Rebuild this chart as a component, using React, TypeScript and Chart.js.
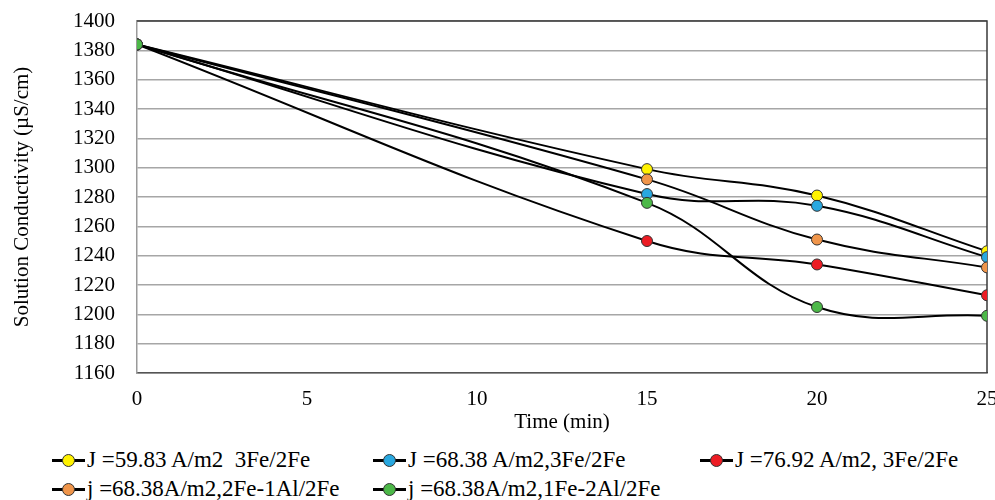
import React, { useEffect, useRef } from "react";
import { Chart, registerables } from "chart.js";

Chart.register(...registerables);

const timeMin = [0, 15, 20, 25];
const xTicks = [0, 5, 10, 15, 20, 25];
const yTicks = [1160, 1180, 1200, 1220, 1240, 1260, 1280, 1300, 1320, 1340, 1360, 1380, 1400];

const seriesLabels = [
  "J =59.83 A/m2  3Fe/2Fe",
  "J =68.38 A/m2,3Fe/2Fe",
  "J =76.92 A/m2, 3Fe/2Fe",
  "j =68.38A/m2,2Fe-1Al/2Fe",
  "j =68.38A/m2,1Fe-2Al/2Fe",
];
const seriesColors = ["#fff200", "#29a8e0", "#ed1c24", "#f0954a", "#4cb848"];

const condJ5983Fe3 = [1384, 1299, 1281, 1243];
const condJ6838Fe3 = [1384, 1282, 1274, 1239];
const condJ7692Fe3 = [1384, 1250, 1234, 1213];
const condJ6838Fe2Al1 = [1384, 1292, 1251, 1232];
const condJ6838Fe1Al2 = [1384, 1276, 1205, 1199];

const seriesValues = [condJ5983Fe3, condJ6838Fe3, condJ7692Fe3, condJ6838Fe2Al1, condJ6838Fe1Al2];
const drawOrder = [4, 3, 2, 1, 0];

const FONT = "'Liberation Serif', 'Times New Roman', serif";
Chart.defaults.font.family = FONT;

const borderPlugin = {
  id: "plotBorder",
  beforeDatasetsDraw(chart: any) {
    const { ctx, chartArea } = chart;
    ctx.save();
    ctx.strokeStyle = "#3a3a3a";
    ctx.lineWidth = 1.5;
    ctx.beginPath();
    ctx.moveTo(chartArea.left, chartArea.top);
    ctx.lineTo(chartArea.right, chartArea.top);
    ctx.lineTo(chartArea.right, chartArea.bottom);
    ctx.stroke();
    ctx.restore();
  },
};

export default function App() {
  const ref = useRef<HTMLCanvasElement | null>(null);

  useEffect(() => {
    if (!ref.current) return;
    const chart = new Chart(ref.current, {
      type: "line",
      data: {
        datasets: seriesValues.map((vals, i) => ({
          label: seriesLabels[i],
          data: vals.map((v, k) => ({ x: timeMin[k], y: v })),
          borderColor: "#000000",
          borderWidth: 2,
          backgroundColor: seriesColors[i],
          pointBackgroundColor: seriesColors[i],
          pointBorderColor: "#333333",
          pointBorderWidth: 1,
          pointRadius: 5.5,
          tension: 0.4,
          fill: false,
          order: drawOrder[i],
        })),
      },
      options: {
        animation: false,
        responsive: false,
        maintainAspectRatio: false,
        layout: { autoPadding: false, padding: { top: 21, right: 8, left: 10, bottom: 0 } },
        plugins: {
          legend: { display: false },
          tooltip: { enabled: false },
        },
        scales: {
          x: {
            type: "linear",
            min: 0,
            max: 25,
            afterBuildTicks: (s: any) => {
              s.ticks = xTicks.map((v) => ({ value: v }));
            },
            afterFit: (s: any) => {
              s.height = 62;
              s.paddingLeft = 0;
              s.paddingRight = 0;
            },
            grid: { display: false, drawTicks: false },
            border: { display: true, color: "#555555", width: 1.5 },
            ticks: {
              color: "#000",
              font: { family: FONT, size: 21 },
              padding: 14,
              maxRotation: 0,
              callback: (v: any) => String(v),
            },
            title: {
              display: true,
              text: "Time (min)",
              color: "#000",
              font: { family: FONT, size: 21 },
              padding: 0,
            },
          },
          y: {
            type: "linear",
            min: 1160,
            max: 1400,
            afterBuildTicks: (s: any) => {
              s.ticks = yTicks.map((v) => ({ value: v }));
            },
            afterFit: (s: any) => {
              s.width = 127;
              s.paddingTop = 0;
              s.paddingBottom = 0;
            },
            grid: { color: "#a6a6a6", lineWidth: 1.5, drawTicks: false },
            border: { display: true, color: "#9a9a9a", width: 1.5 },
            ticks: {
              color: "#000",
              font: { family: FONT, size: 21 },
              padding: 22,
              callback: (v: any) => String(v),
            },
            title: {
              display: true,
              text: "Solution Conductivity (µS/cm)",
              color: "#000",
              font: { family: FONT, size: 21 },
              padding: 0,
            },
          },
        },
      },
      plugins: [borderPlugin],
    });
    return () => chart.destroy();
  }, []);

  const legendCols = [52, 373, 700];
  const legendRows = [460, 489];

  return (
    <div
      style={{
        position: "absolute",
        left: 0,
        top: 0,
        width: 995,
        height: 500,
        overflow: "hidden",
        background: "#fff",
      }}
    >
      <canvas ref={ref} width={995} height={435} style={{ position: "absolute", left: 0, top: 0 }} />
      {seriesLabels.map((lab, i) => {
        const left = legendCols[i % 3];
        const cy = legendRows[Math.floor(i / 3)];
        return (
          <div
            key={i}
            style={{
              position: "absolute",
              left,
              top: cy - 14,
              height: 28,
              display: "flex",
              alignItems: "center",
              whiteSpace: "pre",
              fontFamily: FONT,
              fontSize: 23,
              color: "#000",
            }}
          >
            <div style={{ position: "relative", width: 33, height: 28, marginRight: 2 }}>
              <div
                style={{
                  position: "absolute",
                  left: 0,
                  top: 13,
                  width: 33,
                  height: 2.5,
                  background: "#000",
                }}
              />
              <div
                style={{
                  position: "absolute",
                  left: 10,
                  top: 7.5,
                  width: 11,
                  height: 11,
                  borderRadius: "50%",
                  background: seriesColors[i],
                  border: "1.5px solid #333",
                }}
              />
            </div>
            <span>{lab}</span>
          </div>
        );
      })}
    </div>
  );
}
